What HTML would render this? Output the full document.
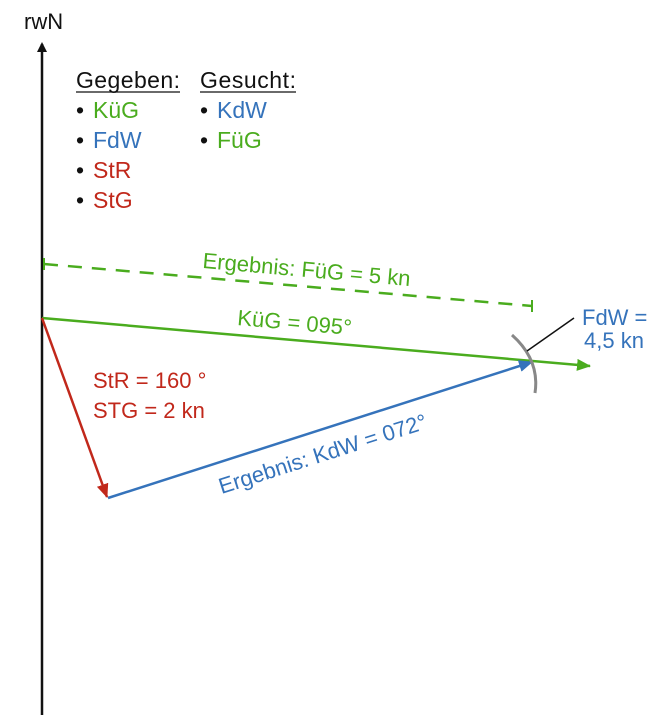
<!DOCTYPE html>
<html><head><meta charset="utf-8"><style>
body{margin:0;background:#fff;}
svg{display:block;font-family:"Liberation Sans",sans-serif;}
</style></head><body>
<svg width="672" height="720" viewBox="0 0 672 720" xmlns="http://www.w3.org/2000/svg">
<defs>
<marker id="ak" markerWidth="10" markerHeight="10" refX="8" refY="5" orient="auto" markerUnits="userSpaceOnUse"><path d="M0,0 L10,5 L0,10 Z" fill="#111"/></marker>
<marker id="ag" markerWidth="14" markerHeight="12" refX="13" refY="6" orient="auto" markerUnits="userSpaceOnUse"><path d="M0,0 L14,6 L0,12 Z" fill="#4aac1e"/></marker>
<marker id="ab" markerWidth="14" markerHeight="12" refX="13" refY="6" orient="auto" markerUnits="userSpaceOnUse"><path d="M0,0 L14,6 L0,12 Z" fill="#3573bb"/></marker>
<marker id="ar" markerWidth="14" markerHeight="12" refX="13" refY="6" orient="auto" markerUnits="userSpaceOnUse"><path d="M0,0 L14,6 L0,12 Z" fill="#c1281b"/></marker>
</defs>
<text x="24" y="29" font-size="22" fill="#111">rwN</text>
<line x1="42" y1="715" x2="42" y2="44" stroke="#111" stroke-width="2.5" marker-end="url(#ak)"/>
<g font-size="23">
<text x="76" y="88" fill="#111" textLength="104">Gegeben:</text>
<line x1="76" y1="92" x2="180" y2="92" stroke="#111" stroke-width="1.3"/>
<text x="200" y="88" fill="#111" textLength="96">Gesucht:</text>
<line x1="200" y1="92" x2="296" y2="92" stroke="#111" stroke-width="1.3"/>
<text x="76" y="118" fill="#111">•</text><text x="93" y="118" fill="#4aac1e">KüG</text>
<text x="76" y="148" fill="#111">•</text><text x="93" y="148" fill="#3573bb">FdW</text>
<text x="76" y="178" fill="#111">•</text><text x="93" y="178" fill="#c1281b">StR</text>
<text x="76" y="208" fill="#111">•</text><text x="93" y="208" fill="#c1281b">StG</text>
<text x="200" y="118" fill="#111">•</text><text x="217" y="118" fill="#3573bb">KdW</text>
<text x="200" y="148" fill="#111">•</text><text x="217" y="148" fill="#4aac1e">FüG</text>
</g>
<line x1="44" y1="264" x2="532" y2="306" stroke="#4aac1e" stroke-width="2.5" stroke-dasharray="14,10"/>
<line x1="44" y1="258" x2="44" y2="270" stroke="#4aac1e" stroke-width="2"/>
<line x1="532" y1="300" x2="532" y2="312" stroke="#4aac1e" stroke-width="2"/>
<text transform="translate(306,277) rotate(5)" text-anchor="middle" font-size="22" fill="#4aac1e">Ergebnis: FüG = 5 kn</text>
<line x1="42" y1="318" x2="590" y2="366" stroke="#4aac1e" stroke-width="2.5" marker-end="url(#ag)"/>
<text transform="translate(294,330) rotate(5)" text-anchor="middle" font-size="22" fill="#4aac1e">KüG = 095°</text>
<line x1="42" y1="318" x2="107" y2="497" stroke="#c1281b" stroke-width="2.5" marker-end="url(#ar)"/>
<text x="93" y="388" font-size="22" fill="#c1281b">StR = 160 °</text>
<text x="93" y="418" font-size="22" fill="#c1281b">STG = 2 kn</text>
<line x1="108" y1="498" x2="532" y2="362" stroke="#3573bb" stroke-width="2.5" marker-end="url(#ab)"/>
<text transform="translate(325,461) rotate(-17.7)" text-anchor="middle" font-size="22" fill="#3573bb">Ergebnis: KdW = 072°</text>
<path d="M512,335 Q540,360 535,393" fill="none" stroke="#888" stroke-width="3"/>
<line x1="527" y1="351" x2="574" y2="318" stroke="#111" stroke-width="1.5"/>
<text x="582" y="325" font-size="22" fill="#3573bb">FdW =</text>
<text x="584" y="348" font-size="22" fill="#3573bb">4,5 kn</text>
</svg>
</body></html>
